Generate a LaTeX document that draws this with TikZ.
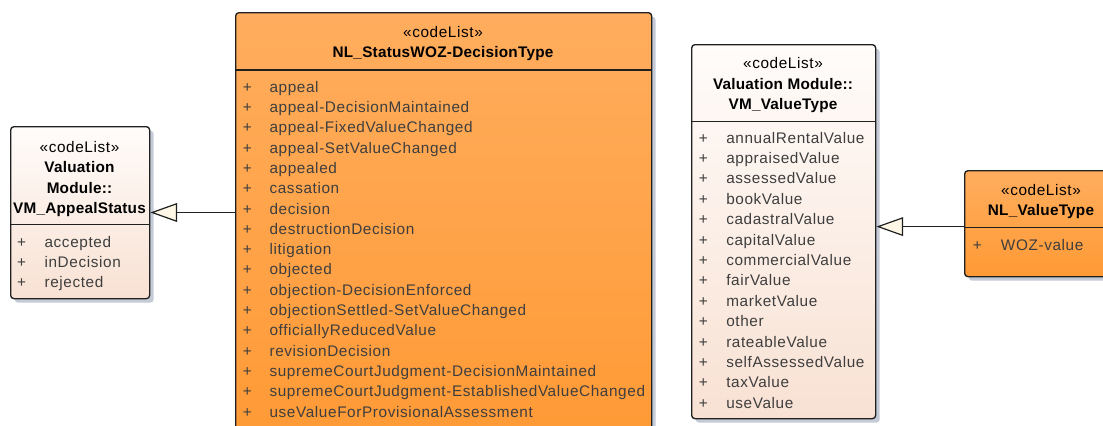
\documentclass[tikz,border=0pt]{standalone}
\usepackage{fontspec}
\setmainfont{Liberation Sans}[LetterSpace=4, BoldFeatures={LetterSpace=1.5}]
\usetikzlibrary{shadows,arrows.meta}
\definecolor{orTop}{HTML}{FFAD5E}
\definecolor{orBot}{HTML}{FF9A35}
\definecolor{peTop}{HTML}{FFFCFA}
\definecolor{peBot}{HTML}{F8E1D3}
\definecolor{shad}{HTML}{C4CAD6}
\definecolor{itemc}{HTML}{3E3E3E}
\definecolor{tric}{HTML}{FFF7E6}
\definecolor{linec}{HTML}{202020}
\newcommand\umlfont{\fontsize{11.5}{15.2}\selectfont}
\begin{document}
\begin{tikzpicture}[x=0.75pt,y=-0.75pt,
  box/.style={draw=linec, line width=1pt, rounded corners=2.5pt, anchor=north west, inner sep=0pt,
    drop shadow={shadow xshift=3pt,shadow yshift=-3pt,fill=shad,opacity=1}},
  orbox/.style={box, top color=orTop, bottom color=orBot},
  pebox/.style={box, top color=peTop, bottom color=peBot},
  hd/.style={font=\umlfont, anchor=base, inner sep=0pt},
  hdb/.style={font=\umlfont\bfseries, anchor=base, inner sep=0pt},
  it/.style={font=\umlfont, text=itemc, anchor=base west, inner sep=0pt},
  pl/.style={font=\umlfont, text=itemc, anchor=base, inner sep=0pt},
  sep/.style={draw=linec, line width=1pt},
  gen/.style={draw=linec, line width=0.9pt, -{Triangle[length=20pt,width=14pt,fill=tric]}}
]
\useasboundingbox (0,0) rectangle (1103,425);

% ---------- boxes
\node[pebox, minimum width=104.25pt, minimum height=129pt] (aps) at (10,126) {};
\node[orbox, minimum width=312pt, minimum height=321pt] (dec) at (235,12) {};
\node[pebox, minimum width=138pt, minimum height=280.5pt] (vmv) at (691,44) {};
\node[orbox, minimum width=115.5pt, minimum height=79.5pt] (nlv) at (964,170) {};

% ---------- separators
\draw[sep] (10,224.5) -- (149,224.5);
\draw[sep] (235,70) -- (651,70);
\draw[sep] (691,121.5) -- (875,121.5);
\draw[sep] (964,227.3) -- (1118,227.3);

% ---------- VM_AppealStatus
\node[hd]  (aps1) at (79.5,152) {«codeList»};
\node[hdb] (aps2) at (79.5,172) {Valuation};
\node[hdb] (aps3) at (79.5,193) {Module::};
\node[hdb] (aps4) at (79.5,213) {VM\_AppealStatus};
\foreach \t [count=\i from 0] in {accepted,inDecision,rejected}{
  \node[pl] (apsp\i) at (21.7,{247.3+20*\i}) {+};
  \node[it] (apst\i) at (44.3,{247.3+20*\i}) {\t};
}

% ---------- NL_StatusWOZ-DecisionType
\node[hd]  (dec1) at (443,37.5) {«codeList»};
\node[hdb] (dec2) at (443,57.5) {NL\_StatusWOZ-DecisionType};
\foreach \t [count=\i from 0] in {appeal,appeal-DecisionMaintained,appeal-FixedValueChanged,
  appeal-SetValueChanged,appealed,cassation,decision,destructionDecision,litigation,objected,
  objection-DecisionEnforced,objectionSettled-SetValueChanged,officiallyReducedValue,
  revisionDecision,supremeCourtJudgment-DecisionMaintained,
  supremeCourtJudgment-EstablishedValueChanged,useValueForProvisionalAssessment}{
  \node[pl] (decp\i) at (247.3,{92.2+20.3*\i}) {+};
  \node[it] (dect\i) at (269.3,{92.2+20.3*\i}) {\t};
}

% ---------- VM_ValueType
\node[hd]  (vmv1) at (783,68) {«codeList»};
\node[hdb] (vmv2) at (783,89) {Valuation Module::};
\node[hdb] (vmv3) at (783,109) {VM\_ValueType};
\foreach \t [count=\i from 0] in {annualRentalValue,appraisedValue,assessedValue,bookValue,
  cadastralValue,capitalValue,commercialValue,fairValue,marketValue,other,rateableValue,
  selfAssessedValue,taxValue,useValue}{
  \node[pl] (vmvp\i) at (703.3,{143+20.4*\i}) {+};
  \node[it] (vmvt\i) at (726,{143+20.4*\i}) {\t};
}

% ---------- NL_ValueType
\node[hd]  (nlv1) at (1041,195) {«codeList»};
\node[hdb] (nlv2) at (1041,215) {NL\_ValueType};
\node[pl] (nlvp0) at (977.3,250.5) {+};
\node[it] (nlvt0) at (1000.7,250.5) {WOZ-value};

% ---------- generalisations
\path (aps.north east) ++(0,86.5) coordinate (apsin);
\draw[gen] (dec.west |- apsin) -- (apsin);
\path (vmv.north east) ++(0,182.6) coordinate (vmvin);
\draw[gen] (nlv.west |- vmvin) -- (vmvin);
\end{tikzpicture}
\end{document}
